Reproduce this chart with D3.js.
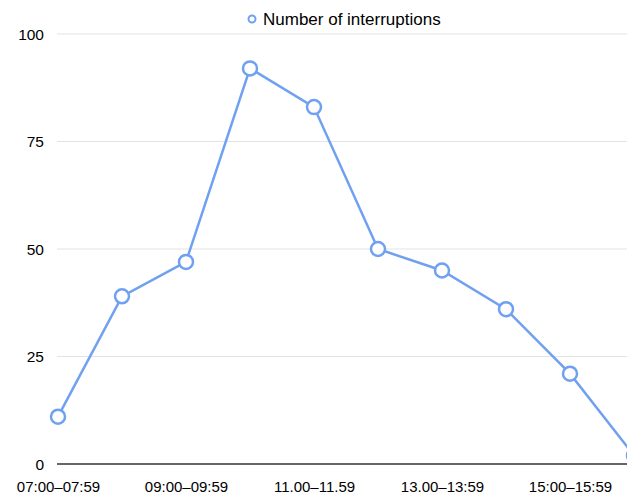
<!DOCTYPE html>
<html>
<head>
<meta charset="utf-8">
<script src="https://cdn.jsdelivr.net/npm/d3@7"></script>
<style>
    html, body { margin: 0; padding: 0; background: #fff; }
    svg { display: block; font-family: 'Liberation Sans', Arial, Helvetica, sans-serif; }
</style>
</head>
<body>
<div class="chart"></div>
<script>
    /* adatok */
    const categories = ['07:00–07:59', '08:00–08:59', '09:00–09:59', '10:00–10:59', '11.00–11.59',
        '12.00–12.59', '13.00–13:59', '14:00–14:59', '15:00–15:59', '16:00–16:59'];
    const interruptions = [11, 39, 47, 92, 83, 50, 45, 36, 21, 2];
    const yTicks = [0, 25, 50, 75, 100];
    const seriesName = 'Number of interruptions';

    const width = 627;
    const height = 497;
    const lineColor = '#70a1f1';

    const svg = d3.select('.chart').append('svg')
        .attr('width', width)
        .attr('height', height);

    /* skálák */
    const x = d3.scalePoint().domain(categories).range([58, 634]);
    const y = d3.scaleLinear().domain([0, 100]).range([464, 34]);

    /* rácsvonalak */
    svg.append('g').attr('class', 'grid')
        .selectAll('line').data(yTicks.filter(function (d) { return d > 0; }))
        .enter().append('line')
        .attr('x1', 57).attr('x2', width)
        .attr('y1', function (d) { return y(d); })
        .attr('y2', function (d) { return y(d); })
        .attr('stroke', '#e3e3e3')
        .attr('stroke-width', 1);

    /* y tengely feliratai */
    svg.append('g').attr('class', 'y-axis')
        .selectAll('text').data(yTicks)
        .enter().append('text')
        .text(function (d) { return d; })
        .attr('x', 44)
        .attr('y', function (d) { return y(d); })
        .attr('dy', '.36em')
        .attr('text-anchor', 'end')
        .attr('fill', '#000')
        .style('font-size', '15.5px');

    /* x tengely */
    const xAxis = svg.append('g').attr('class', 'x-axis')
        .attr('transform', 'translate(0,' + y(0) + ')')
        .call(d3.axisBottom(x).tickSize(0).tickPadding(17)
            .tickValues(categories.filter(function (d, i) { return i % 2 === 0; })));
    xAxis.select('.domain').remove();
    xAxis.selectAll('text').attr('fill', '#000')
        .style('font-size', '15px')
        .style('font-family', "'Liberation Sans', Arial, sans-serif");
    svg.append('line')
        .attr('x1', 57).attr('x2', width)
        .attr('y1', y(0)).attr('y2', y(0))
        .attr('stroke', '#333')
        .attr('stroke-width', 1.5);

    /* vonal */
    const line = d3.line()
        .x(function (d, i) { return x(categories[i]); })
        .y(function (d) { return y(d); });

    svg.append('path').datum(interruptions)
        .attr('d', line)
        .attr('fill', 'none')
        .attr('stroke', lineColor)
        .attr('stroke-width', 2.5);

    svg.selectAll('.dot').data(interruptions)
        .enter().append('circle').attr('class', 'dot')
        .attr('cx', function (d, i) { return x(categories[i]); })
        .attr('cy', function (d) { return y(d); })
        .attr('r', 7)
        .attr('fill', '#fff')
        .attr('stroke', lineColor)
        .attr('stroke-width', 2.5);

    /* jelmagyarázat */
    const legend = svg.append('g').attr('class', 'legend');
    legend.append('circle')
        .attr('cx', 252).attr('cy', 19).attr('r', 3.5)
        .attr('fill', '#fff')
        .attr('stroke', lineColor)
        .attr('stroke-width', 2);
    legend.append('text').text(seriesName)
        .attr('x', 263).attr('y', 19)
        .attr('dy', '.36em')
        .attr('fill', '#000')
        .style('font-size', '17px');
</script>
</body>
</html>
